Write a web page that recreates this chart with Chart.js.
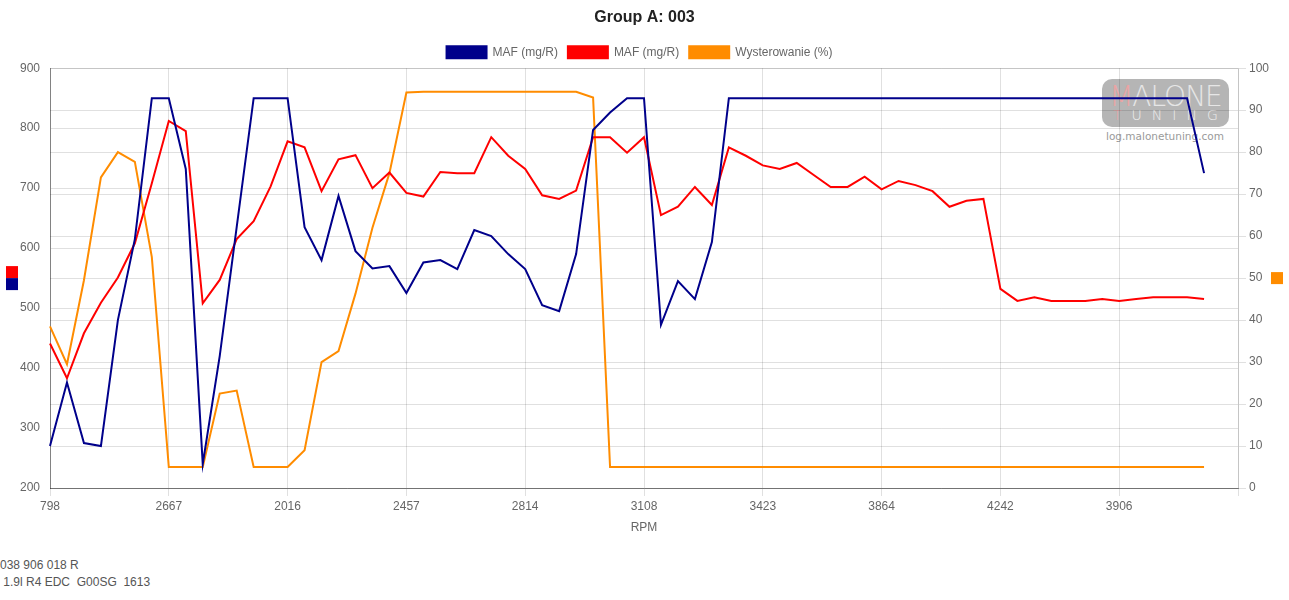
<!DOCTYPE html>
<html>
<head>
<meta charset="utf-8">
<script src="https://cdn.jsdelivr.net/npm/chart.js@4.4.0/dist/chart.umd.min.js"></script>
<style>
html,body{margin:0;padding:0;background:#fff;}
#wrap{position:relative;width:1289px;height:600px;overflow:hidden;}
#logo{position:absolute;left:1102px;top:79px;width:127px;height:48px;border-radius:10px;background:#b5b5b5;}
#logo .m1{position:absolute;left:0;top:4px;width:127px;text-align:center;font-family:'DejaVu Sans',sans-serif;font-weight:200;font-size:28px;line-height:28px;letter-spacing:-1px;color:#e6e6e6;white-space:nowrap;}
#logo .m2{position:absolute;left:11px;top:29px;font-family:'DejaVu Sans',sans-serif;font-weight:300;font-size:14px;line-height:14px;letter-spacing:10px;color:#eeeeee;white-space:nowrap;}
#logo .pk{color:#eaa4a4;}
#url{position:absolute;left:1106px;top:130px;font-family:'DejaVu Sans',sans-serif;font-size:10.5px;line-height:13px;color:#9a9a9a;white-space:nowrap;}
#c{position:absolute;left:0;top:0;}
#info{position:absolute;left:0;top:557px;font-family:'Liberation Sans',Arial,sans-serif;font-size:12px;line-height:17px;color:#555;white-space:pre;}
</style>
</head>
<body>
<div id="wrap">
  <div id="logo"><div class="m1"><span class="pk">M</span>ALONE</div><div class="m2"><span class="pk">T</span>UNING</div></div>
  <div id="url">log.malonetuning.com</div>
  <canvas id="c" width="1289" height="539"></canvas>
  <div id="info">038 906 018 R
 1.9l R4 EDC  G00SG  1613</div>
</div>
<script>
// ---- data ----
const rpmTickLabels = ['798', '2667', '2016', '2457', '2814', '3108', '3423', '3864', '4242', '3906', ''];
const samplesPerTick = 7;

const mafSpecified = [270, 376, 275, 270, 480, 615, 850, 850, 732, 240,
  420, 635, 850, 850, 850, 635, 580, 687, 595, 566,
  570, 525, 576, 580, 565, 630, 620, 590, 565, 505,
  495, 590, 797, 826, 850, 850, 472, 545, 515, 610,
  850, 850, 850, 850, 850, 850, 850, 850, 850, 850,
  850, 850, 850, 850, 850, 850, 850, 850, 850, 850,
  850, 850, 850, 850, 850, 850, 850, 850, 725];

const mafActual = [441, 383, 458, 509, 551, 608, 708, 812, 795, 508,
  547, 615, 645, 703, 778, 768, 695, 748, 755, 700,
  726, 692, 686, 727, 725, 725, 785, 754, 732, 688,
  682, 696, 785, 785, 759, 785, 655, 669, 702, 672,
  768, 754, 738, 732, 742, 722, 702, 702, 719, 698,
  712, 705, 695, 669, 679, 682, 532, 512, 518, 512,
  512, 512, 515, 512, 515, 518, 518, 518, 515];

const wysterowanie = [38.5, 29.5, 49.5, 74, 80, 77.7, 55, 5, 5, 5,
  22.5, 23.2, 5, 5, 5, 9, 30, 32.6, 46.3, 62,
  75, 94.2, 94.4, 94.4, 94.4, 94.4, 94.4, 94.4, 94.4, 94.4,
  94.4, 94.4, 93, 5, 5, 5, 5, 5, 5, 5,
  5, 5, 5, 5, 5, 5, 5, 5, 5, 5,
  5, 5, 5, 5, 5, 5, 5, 5, 5, 5,
  5, 5, 5, 5, 5, 5, 5, 5, 5];

const leftAxisMin = 200, leftAxisMax = 900, leftAxisStep = 100;
const rightAxisMin = 0, rightAxisMax = 100, rightAxisStep = 10;

// ---- build ----
const nCategories = (rpmTickLabels.length - 1) * samplesPerTick + 1;
const categories = Array.from({length: nCategories}, (_, i) =>
  i % samplesPerTick === 0 ? rpmTickLabels[i / samplesPerTick] : String(i));

const BLUE = '#00008B', RED = '#FF0000', ORANGE = '#FF8C00';
const GRID = 'rgba(0,0,0,0.12)', AXIS = 'rgba(0,0,0,0.42)';

Chart.defaults.font.family = "'Liberation Sans', Arial, sans-serif";
Chart.defaults.font.size = 12;
Chart.defaults.color = '#666';

const axisMarkers = {
  id: 'axisMarkers',
  afterLayout(chart) {
    // legacy-style legend centring (trailing padding included)
    const lg = chart.legend;
    if (lg) { lg.left -= 5; lg.right -= 5; }
  },
  afterDraw(chart) {
    const {ctx, chartArea, scales} = chart;
    const mid = (chartArea.top + chartArea.bottom) / 2;
    const s = 12;
    ctx.save();
    ctx.fillStyle = RED;  ctx.fillRect(scales.yLeft.left + 6, mid - s, s, s);
    ctx.fillStyle = BLUE; ctx.fillRect(scales.yLeft.left + 6, mid, s, s);
    ctx.fillStyle = ORANGE; ctx.fillRect(scales.yRight.right - 18, mid - s / 2, s, s);
    ctx.restore();
  }
};

function ds(label, data, color, axis) {
  return {label, data, borderColor: color, backgroundColor: color, yAxisID: axis,
    borderWidth: 2, pointRadius: 0, pointHoverRadius: 0, tension: 0, fill: false};
}

new Chart(document.getElementById('c'), {
  type: 'line',
  data: {
    labels: categories,
    datasets: [
      ds('MAF (mg/R)', mafSpecified, BLUE, 'yLeft'),
      ds('MAF (mg/R)', mafActual, RED, 'yLeft'),
      ds('Wysterowanie (%)', wysterowanie, ORANGE, 'yRight')
    ]
  },
  options: {
    responsive: false,
    devicePixelRatio: 1,
    animation: false,
    layout: {padding: 0},
    plugins: {
      title: {display: true, text: 'Group A: 003', color: '#222',
        font: {size: 16, weight: 'bold'}, padding: {top: 8, bottom: 9}},
      legend: {display: true, labels: {boxWidth: 40, padding: 10, color: '#666', font: {size: 12}}},
      tooltip: {enabled: false}
    },
    scales: {
      x: {
        type: 'category',
        offset: false,
        grid: {color: (c) => (c.index % samplesPerTick === 0 ? GRID : 'rgba(0,0,0,0)'), tickLength: 8},
        border: {color: AXIS},
        ticks: {autoSkip: false, maxRotation: 0, padding: 3, color: '#666',
          callback(v, i) { return i % samplesPerTick === 0 ? this.getLabelForValue(v) : ''; }},
        title: {display: true, text: 'RPM', color: '#666', font: {size: 12}, padding: {top: 4, bottom: 4}},
        afterFit(s) { s.height = 51; }
      },
      yLeft: {
        position: 'left', min: leftAxisMin, max: leftAxisMax,
        ticks: {stepSize: leftAxisStep, padding: 10, color: '#666'},
        grid: {color: GRID, drawTicks: false},
        border: {color: AXIS},
        afterFit(s) { s.width = 50; }
      },
      yRight: {
        position: 'right', min: rightAxisMin, max: rightAxisMax,
        ticks: {stepSize: rightAxisStep, padding: 3, color: '#666'},
        grid: {color: GRID, tickLength: 8},
        border: {color: GRID},
        afterFit(s) { s.width = 51; }
      }
    }
  },
  plugins: [axisMarkers]
});
</script>
</body>
</html>
